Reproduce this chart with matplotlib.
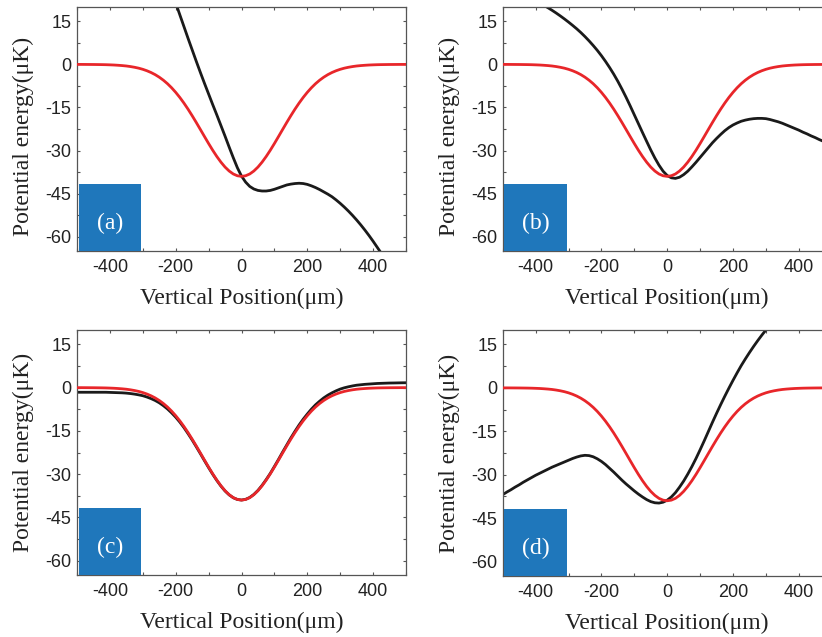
import matplotlib

matplotlib.use("Agg")
import matplotlib.pyplot as plt
import numpy as np
from matplotlib.patches import Rectangle
from matplotlib.ticker import MultipleLocator

plt.rcParams["axes.unicode_minus"] = False

X_FULL = np.arange(-500, 500.1, 12.5)
X_A = np.arange(-212.5, 437.6, 12.5)
X_B = np.arange(-400, 500.1, 12.5)
X_D = np.arange(-500, 312.6, 12.5)

# red reference well, same in every panel
RED = [0.0, 0.0, -0.01, -0.02, -0.03, -0.05, -0.07, -0.10, -0.15, -0.21,
       -0.30, -0.41, -0.55, -0.75, -1.00, -1.31, -1.71, -2.21, -2.82, -3.56,
       -4.45, -5.50, -6.72, -8.13, -9.73, -11.51, -13.47, -15.59, -17.86,
       -20.23, -22.67, -25.13, -27.56, -29.90, -32.08, -34.05, -35.76,
       -37.14, -38.17, -38.79, -39.0,
       -38.79, -38.17, -37.14, -35.76, -34.05, -32.08, -29.90, -27.56,
       -25.13, -22.67, -20.23, -17.86, -15.59, -13.47, -11.51, -9.73, -8.13,
       -6.72, -5.50, -4.45, -3.56, -2.82, -2.21, -1.71, -1.31, -1.00, -0.75,
       -0.55, -0.41, -0.30, -0.21, -0.15, -0.10, -0.07, -0.05, -0.03, -0.02,
       -0.01, 0.0, 0.0]

BLACK_A = [25.5, 21.4, 17.3, 13.2, 9.1, 5.1, 1.1, -2.8, -6.6, -10.3, -14.0,
           -17.6, -21.3, -25.0, -28.8, -32.5, -36.0, -38.9, -41.0, -42.5,
           -43.4, -43.9, -44.1, -44.1, -43.9, -43.5, -43.0, -42.5, -42.0,
           -41.7, -41.5, -41.4, -41.5, -41.8, -42.3, -42.9, -43.6, -44.4,
           -45.2, -46.1, -47.2, -48.4, -49.7, -51.1, -52.6, -54.2, -55.9,
           -57.7, -59.6, -61.6, -63.7, -65.8, -68.0]

BLACK_B = [22.15, 21.4, 20.6, 19.75, 18.85, 17.9, 16.9, 15.85, 14.75, 13.6,
           12.4, 11.1, 9.7, 8.2, 6.6, 4.9, 3.05, 1.05, -1.1, -3.4, -5.9, -8.6,
           -11.45, -14.45, -17.55, -20.65, -23.75, -26.8, -29.8, -32.6, -35.1,
           -37.2, -38.7, -39.5, -39.7, -39.3, -38.4, -37.2, -35.7, -34.1,
           -32.4, -30.7, -29.0, -27.3, -25.8, -24.4, -23.1, -22.0, -21.1,
           -20.4, -19.8, -19.4, -19.1, -18.9, -18.8, -18.8, -18.9, -19.2,
           -19.6, -20.0, -20.5, -21.1, -21.7, -22.3, -22.9, -23.6, -24.2,
           -24.9, -25.5, -26.2, -26.8, -27.5, -28.1]

BLACK_C = [-1.6, -1.6, -1.6, -1.6, -1.6, -1.6, -1.6, -1.6, -1.65, -1.7,
           -1.75, -1.8, -1.9, -2.05, -2.25, -2.5, -2.8, -3.25, -3.8, -4.45,
           -5.25, -6.25, -7.4, -8.75, -10.25, -11.95, -13.85, -15.95, -18.15,
           -20.5, -22.9, -25.35, -27.75, -30.05, -32.2, -34.15, -35.85, -37.2,
           -38.2, -38.8, -39.0,
           -38.75, -38.1, -37.05, -35.65, -33.9, -31.9, -29.75, -27.35,
           -24.9, -22.35, -19.9, -17.45, -15.15, -12.95, -10.95, -9.15, -7.45,
           -5.95, -4.7, -3.55, -2.6, -1.8, -1.1, -0.5, -0.05, 0.3, 0.6, 0.85,
           1.0, 1.15, 1.25, 1.35, 1.45, 1.5, 1.55, 1.6, 1.62, 1.65, 1.68, 1.7]

BLACK_D = [-36.9, -36.0, -35.2, -34.3, -33.5, -32.6, -31.8, -31.0, -30.2,
           -29.5, -28.8, -28.1, -27.4, -26.8, -26.2, -25.6, -25.0, -24.4,
           -23.9, -23.5, -23.3, -23.4, -23.8, -24.5, -25.4, -26.5, -27.8,
           -29.1, -30.5, -31.9, -33.2, -34.4, -35.6, -36.7, -37.7, -38.6,
           -39.3, -39.7, -39.8, -39.5, -38.8, -37.7, -36.2, -34.3, -32.2,
           -29.8, -27.2, -24.4, -21.4, -18.3, -15.1, -11.9, -8.8, -5.8, -2.9,
           -0.1, 2.6, 5.2, 7.7, 10.0, 12.2, 14.3, 16.3, 18.2, 20.0, 21.8]

PANELS = [
    ("(a)", X_A, BLACK_A),
    ("(b)", X_B, BLACK_B),
    ("(c)", X_FULL, BLACK_C),
    ("(d)", X_D, BLACK_D),
]

W, H = 822, 637
# axes boxes in pixels: left, top, width, height (right column runs off the page)
BOXES = [
    (77, 7, 329, 244),
    (502.7, 7, 329, 244),
    (77, 330, 329, 245),
    (502.7, 330, 329, 246),
]
# y position of the y label (axes fraction), top row sits a little low
YLABEL_Y = [0.471, 0.471, 0.5, 0.5]

SPINE = "#555555"
TEXT = "#222222"
TICK_FONT = "Liberation Sans"
LABEL_FONT = "Liberation Serif"

fig = plt.figure(figsize=(W / 100, H / 100), dpi=100)

for (tag, xs, ys), (left, top, bw, bh), ly in zip(PANELS, BOXES, YLABEL_Y):
    ax = fig.add_axes([left / W, (H - top - bh) / H, bw / W, bh / H])
    ax.plot(X_FULL, RED, color="#e8262a", lw=2.0, zorder=3)
    ax.plot(xs, ys, color="#1a1a1a", lw=2.0, zorder=2)

    ax.set_xlim(-500, 500)
    ax.set_ylim(-65, 20)
    ax.xaxis.set_major_locator(MultipleLocator(200))
    ax.xaxis.set_minor_locator(MultipleLocator(100))
    ax.yaxis.set_major_locator(MultipleLocator(15))
    ax.yaxis.set_minor_locator(MultipleLocator(7.5))
    ax.tick_params(which="both", direction="in", top=True, right=True,
                   length=2.5, width=0.8, color=SPINE)
    ax.tick_params(axis="x", pad=6)
    ax.tick_params(axis="y", pad=4)
    ax.tick_params(labelsize=13, labelcolor=TEXT)
    for lab in ax.get_xticklabels() + ax.get_yticklabels():
        lab.set_fontfamily(TICK_FONT)
    for spine in ax.spines.values():
        spine.set_color(SPINE)
        spine.set_linewidth(0.9)

    ax.set_xlabel("Vertical Position(\u03bcm)", fontfamily=LABEL_FONT,
                  fontsize=17, color=TEXT, labelpad=8)
    ax.set_ylabel("Potential energy(\u03bcK)", fontfamily=LABEL_FONT,
                  fontsize=17, color=TEXT)
    ax.yaxis.set_label_coords(-0.131, ly)

    ax.add_patch(Rectangle((-495, -65), 190, 23.3, facecolor="#1f77bb",
                           edgecolor="none", zorder=5, clip_on=False))
    ax.text(-400, -55.5, tag, fontfamily=LABEL_FONT, fontsize=17,
            color="white", ha="center", va="center", zorder=6)

fig.savefig("out.png", dpi=100)
